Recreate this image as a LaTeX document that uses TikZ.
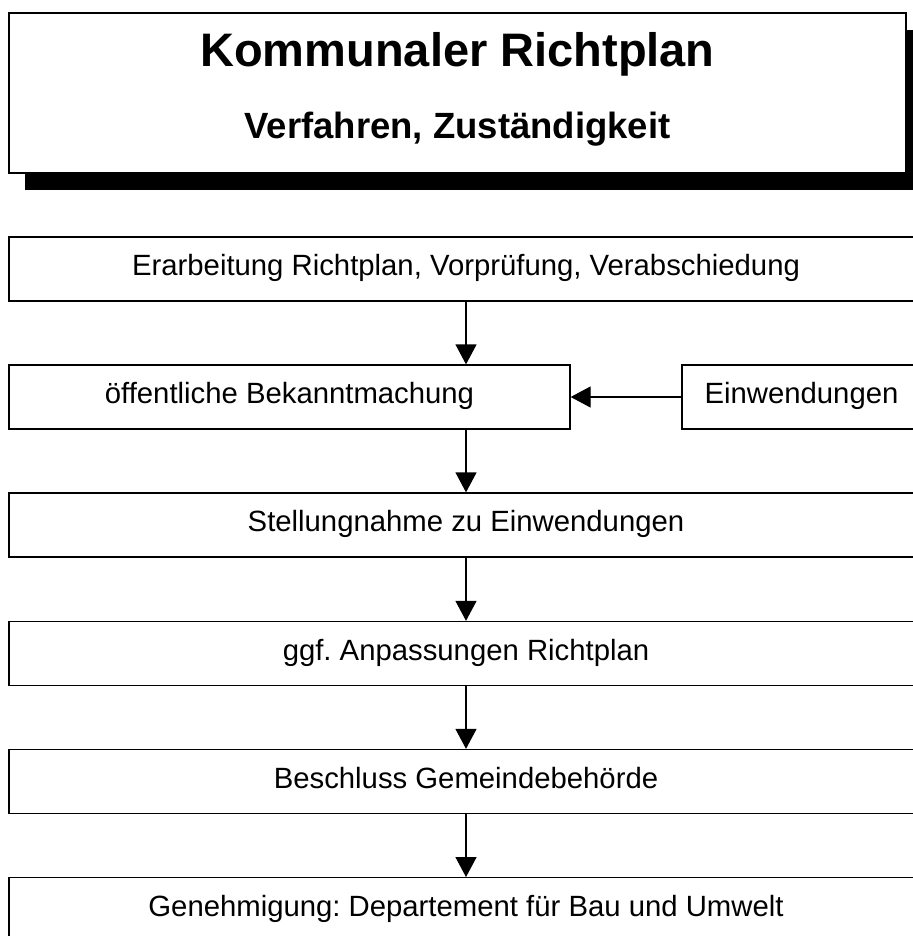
\documentclass[tikz,border=0pt]{standalone}
\usepackage{fontspec}
\setmainfont{Liberation Sans}
\usetikzlibrary{arrows.meta}
\frenchspacing
\tikzset{
  stepbox/.style={draw=black, line width=1.3pt, fill=white, inner sep=0pt,
    minimum height=64pt, text height=21pt, text depth=8pt,
    font=\fontsize{29.3}{35}\selectfont},
  flow/.style={line width=1.3pt, -{Triangle[width=21pt,length=20pt]}},
}
\begin{document}
\frenchspacing
\begin{tikzpicture}[x=1pt,y=-1pt]
\useasboundingbox (0,0) rectangle (912,936);
% title with shadow
\fill[black] (25,30) rectangle (922,190);
\node[draw=black, line width=1.3pt, fill=white, minimum width=897pt, minimum height=160pt, inner sep=0pt] (title) at (457.5,93) {};
\node[anchor=base, inner sep=0pt, font=\bfseries\fontsize{47}{56}\selectfont] (t1) at (457.5,66.7) {Kommunaler Richtplan};
\node[anchor=base, inner sep=0pt, font=\bfseries\fontsize{36.5}{44}\selectfont] (t2) at (457.5,138.3) {Verfahren, Zuständigkeit};
% boxes
\node[stepbox, minimum width=914pt] (b1) at (466,269) {Erarbeitung Richtplan, Vorprüfung, Verabschiedung};
\node[stepbox, minimum width=561pt] (b2) at (289.5,397) {öffentliche Bekanntmachung};
\node[stepbox, minimum width=239pt] (ein) at (801.5,397) {Einwendungen};
\node[stepbox, minimum width=914pt] (b3) at (466,525) {Stellungnahme zu Einwendungen};
\node[stepbox, minimum width=914pt] (b4) at (466,653.5) {ggf. Anpassungen Richtplan};
\node[stepbox, minimum width=914pt] (b5) at (466,781.5) {Beschluss Gemeindebehörde};
\node[stepbox, minimum width=914pt] (b6) at (466,909.7) {Genehmigung: Departement für Bau und Umwelt};
% connectors
\draw[flow] (b1.south) -- (b1.south |- b2.north);
\draw[flow] (ein.west) -- (b2.east);
\draw[flow] (b3.north |- b2.south) -- (b3.north);
\draw[flow] (b3.south) -- (b4.north);
\draw[flow] (b4.south) -- (b5.north);
\draw[flow] (b5.south) -- (b6.north);
\end{tikzpicture}
\end{document}
